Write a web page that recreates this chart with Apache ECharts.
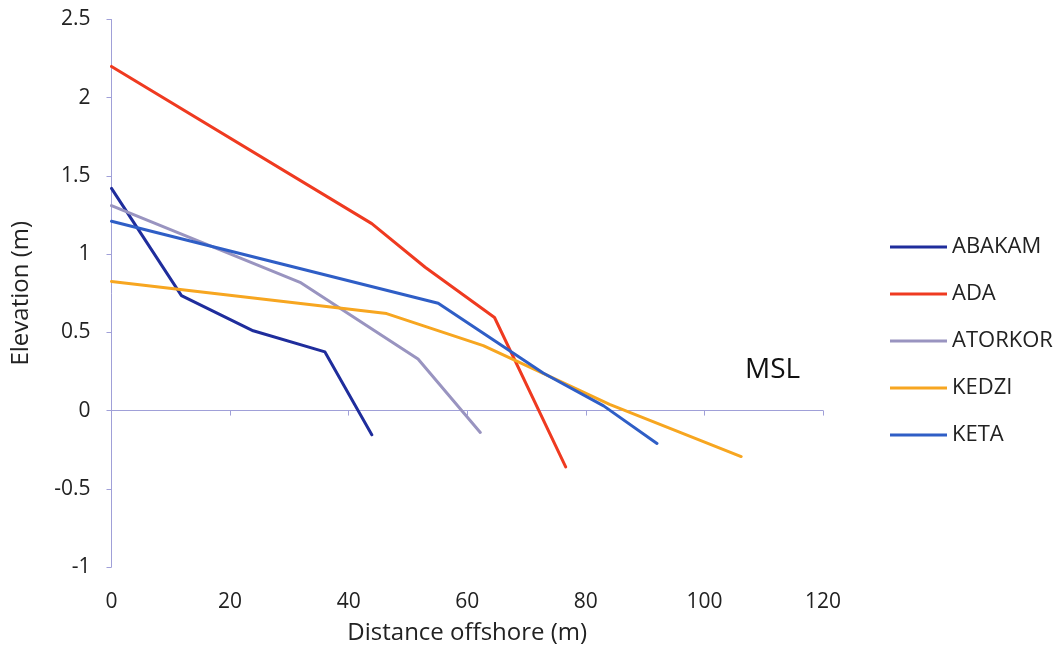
<!DOCTYPE html>
<html>
<head>
<meta charset="utf-8">
<script src="https://cdn.jsdelivr.net/npm/echarts@6/dist/echarts.min.js"></script>
<style>
  html, body { margin: 0; padding: 0; background: #fff; }
  #chart { width: 1059px; height: 649px; }
</style>
</head>
<body>
<div id="chart"></div>
<script>
// Beach profiles: [distance offshore (m), elevation (m)]
const seriesNames = ['ABAKAM', 'ADA', 'ATORKOR', 'KEDZI', 'KETA'];
const abakam  = [[0, 1.42], [11.8, 0.735], [23.9, 0.51], [36.0, 0.375], [43.9, -0.155]];
const ada     = [[0, 2.2], [43.9, 1.195], [52.9, 0.916], [64.6, 0.595], [76.6, -0.36]];
const atorkor = [[0, 1.31], [31.8, 0.82], [51.7, 0.33], [62.2, -0.14]];
const kedzi   = [[0, 0.825], [46.4, 0.62], [62.7, 0.415], [71.8, 0.256], [84, 0.04], [106.2, -0.294]];
const keta    = [[0, 1.21], [55.1, 0.686], [72.8, 0.24], [83.0, 0.03], [92.0, -0.21]];
const xTicks = [0, 20, 40, 60, 80, 100, 120];
const yTicks = [-1, -0.5, 0, 0.5, 1, 1.5, 2, 2.5];

const profiles = [abakam, ada, atorkor, kedzi, keta];
const colors = ['#1f2d9c', '#ef3a20', '#9994c0', '#f7a620', '#2f5ec6'];
const FONT = '"Open Sans", Lato, sans-serif';
const AXIS_COLOR = '#a0a0d8';
const TEXT_COLOR = '#222';

const chart = echarts.init(document.getElementById('chart'), null, { renderer: 'canvas' });

chart.setOption({
  animation: false,
  backgroundColor: '#fff',
  textStyle: { fontFamily: FONT },
  grid: { left: 111.5, right: 236, top: 19.5, bottom: 82, containLabel: false, outerBoundsMode: 'none' },
  legend: {
    orient: 'vertical',
    left: 885,
    top: 230,
    icon: 'rect',
    itemWidth: 57,
    itemHeight: 3,
    itemGap: 23,
    textStyle: { fontFamily: FONT, fontSize: 22, color: TEXT_COLOR, lineHeight: 24 },
    data: seriesNames
  },
  xAxis: {
    type: 'value',
    min: xTicks[0],
    max: xTicks[xTicks.length - 1],
    interval: 20,
    axisLine: { show: true, onZero: true, lineStyle: { color: AXIS_COLOR, width: 1 } },
    axisTick: { show: true, length: 5, lineStyle: { color: AXIS_COLOR } },
    splitLine: { show: false },
    axisLabel: { margin: 25, fontFamily: FONT, fontSize: 21, color: TEXT_COLOR },
    name: 'Distance offshore (m)',
    nameLocation: 'middle',
    nameGap: 54,
    nameTextStyle: { fontFamily: FONT, fontSize: 24, color: TEXT_COLOR }
  },
  yAxis: {
    type: 'value',
    min: yTicks[0],
    max: yTicks[yTicks.length - 1],
    interval: 0.5,
    axisLine: { show: true, lineStyle: { color: AXIS_COLOR, width: 1 } },
    axisTick: { show: true, length: 5, lineStyle: { color: AXIS_COLOR } },
    splitLine: { show: false },
    axisLabel: { margin: 21, fontFamily: FONT, fontSize: 21, color: TEXT_COLOR },
    name: 'Elevation (m)',
    nameLocation: 'middle',
    nameGap: 78,
    nameTextStyle: { fontFamily: FONT, fontSize: 24, color: TEXT_COLOR }
  },
  graphic: [{
    type: 'text',
    left: 745,
    top: 356,
    style: { text: 'MSL', font: '28px ' + FONT, fill: '#111' }
  }],
  series: profiles.map((data, i) => ({
    name: seriesNames[i],
    type: 'line',
    data: data,
    symbol: 'none',
    color: colors[i],
    lineStyle: { width: 3, color: colors[i], cap: 'round', join: 'round' },
    z: 2 + i
  }))
});
</script>
</body>
</html>
